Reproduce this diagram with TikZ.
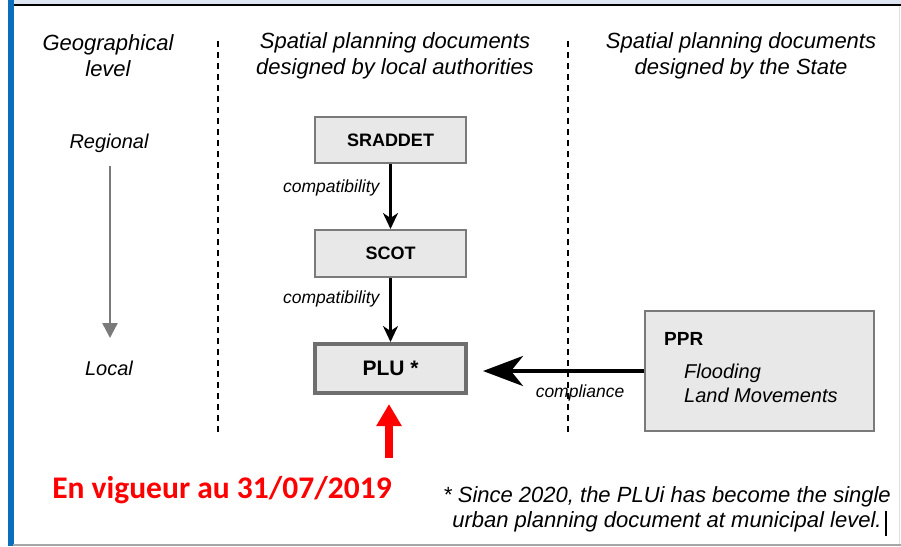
\documentclass[tikz,border=0pt]{standalone}
\usepackage{fontspec}
\setmainfont{Liberation Sans}
\newfontfamily\calibrifont{Carlito}
\usepackage{tikz}
\usetikzlibrary{positioning,arrows.meta}

\definecolor{boxfill}{HTML}{E8E8E8}
\definecolor{boxline}{HTML}{7A7A7A}
\definecolor{framebar}{HTML}{0A6EBD}
\definecolor{framestrip}{HTML}{DCE6F2}

\begin{document}
\begin{tikzpicture}[x=1pt, y=-1pt,
    doc/.style = {draw=boxline, fill=boxfill, line width=2pt, minimum width=151pt, inner sep=0pt},
    head/.style = {align=center, font=\fontsize{22}{26}\selectfont\itshape},
    level/.style = {font=\fontsize{20}{24}\selectfont\itshape},
    link/.style = {font=\fontsize{17.5}{20}\selectfont\itshape},
    sep/.style = {line width=2.5pt, dash pattern=on 6pt off 5pt}]
            \useasboundingbox (0,0) rectangle (901,546);
            % Frame
            \fill[framestrip] (13,0) rectangle (901,4);
            \draw[line width=2.5pt] (13,5.2) -- (901,5.2);
            \fill[framebar] (8,0) rectangle (13.5,546);
            \draw[gray!70, line width=2pt] (13,544.5) -- (901,544.5);
            \draw[gray!25, line width=1pt] (899,6) -- (899,544);
            % Headings
            \node[head] (geo) at (108,56) {Geographical\\level};
            \node[head] (local) at (395,56) {Spatial planning documents\\designed by local authorities};
            \node[head] (state) at (741,56) {Spatial planning documents\\designed by the State};
            \coordinate (s1top) at (218,41);
            \coordinate (s1bot) at (218,432);
            \coordinate (s2top) at (568,41);
            \coordinate (s2bot) at (568,432);
            \draw[sep] (s1top) -- (s1bot);
            \draw[sep] (s2top) -- (s2bot);
            % Levels
            \node[level] (regional) at (109,143) {Regional};
            \node[level] (loc) at (109,368) {Local};
            \coordinate (lvtop) at (110,166);
            \coordinate (lvbot) at (110,338);
            \draw[boxline, line width=2.5pt, -{Triangle[length=15pt,width=15pt]}] (lvtop) -- (lvbot);
            % Nodes
            \node[doc, minimum height=46pt, font=\fontsize{18}{20}\selectfont\bfseries] (sraddet) at (390.5,140) {SRADDET};
            \node[doc, minimum height=47pt, font=\fontsize{18}{20}\selectfont\bfseries] (scot) at (390.5,253.5) {SCOT};
            \node[doc, minimum height=49pt, line width=4pt, draw=boxline!90!black, font=\fontsize{21}{24}\selectfont\bfseries] (plu) at (390.5,368.5) {PLU *};
            \node[doc, minimum width=229pt, minimum height=120pt] (ppr) at (759.5,371) {};
            \node[anchor=west, inner sep=0pt, font=\fontsize{19}{22}\selectfont\bfseries] (pprname) at (664,339) {PPR};
            \node[anchor=west, align=left, inner sep=0pt, font=\fontsize{20}{24}\selectfont\itshape] (pprrisk) at (684,383) {Flooding\\Land Movements};
            \node[font=\fontsize{31.5}{36}\selectfont\calibrifont\bfseries, text=red] (date) at (222,490) {En vigueur au 31/07/2019};
            \node[align=center, font=\fontsize{22}{25}\selectfont\itshape] (note) at (667,509.5) {* Since 2020, the PLUi has become the single\\urban planning document at municipal level.};
            \coordinate (cursortop) at (886,511);
            \coordinate (cursorbot) at (886,536);
            \draw[line width=1.2pt] (cursortop) -- (cursorbot);
            % Edges
            \draw[line width=2.5pt, -{Stealth[length=16pt,width=15pt,inset=5pt]}] (sraddet) -- (scot);
            \node[link, anchor=east] (comp1) at (383,188) {compatibility};
            \draw[line width=2.5pt, -{Stealth[length=16pt,width=15pt,inset=5pt]}] (scot) -- (plu);
            \node[link, anchor=east] (comp2) at (383,299) {compatibility};
            \draw[line width=4pt, shorten >=15pt, -{Stealth[length=40pt,width=30pt,inset=12pt]}] (ppr.west) -- (plu.east |- ppr.west);
            \node[link] (compl) at (580,393) {compliance};
            \coordinate (redfoot) at (389,458);
            \draw[red, line width=8pt, shorten >=9pt, -{Triangle[length=22pt,width=24pt]}] (redfoot) -- (plu.south -| redfoot);
\end{tikzpicture}
\end{document}
